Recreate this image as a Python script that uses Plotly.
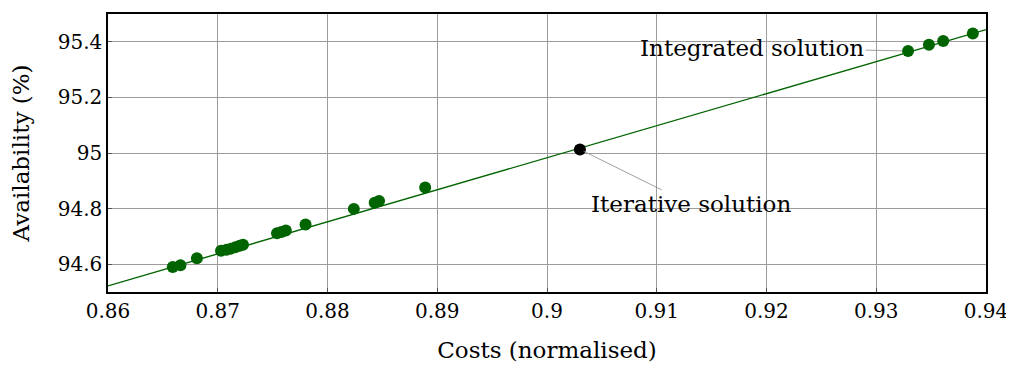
import plotly.graph_objects as go

# Pareto points (costs normalised, availability %)
costs = [0.8659, 0.8666, 0.8681, 0.8703, 0.8708, 0.8712, 0.8716, 0.8720, 0.8723,
         0.8754, 0.8758, 0.8762, 0.8780, 0.8824, 0.8843, 0.8847, 0.8889,
         0.9329, 0.9348, 0.9361, 0.9388]
availability = [94.590, 94.596, 94.621, 94.648, 94.652, 94.656, 94.661, 94.666, 94.670,
                94.711, 94.716, 94.721, 94.743, 94.799, 94.821, 94.827, 94.876,
                95.367, 95.389, 95.403, 95.430]

# Iterative solution
iter_cost = [0.9030]
iter_avail = [95.013]

# Fitted line end points
fit_x = [0.86, 0.94]
fit_y = [94.522, 95.444]

x_ticks = [0.86, 0.87, 0.88, 0.89, 0.9, 0.91, 0.92, 0.93, 0.94]
x_tick_labels = ["0.86", "0.87", "0.88", "0.89", "0.9", "0.91", "0.92", "0.93", "0.94"]
y_ticks = [94.6, 94.8, 95.0, 95.2, 95.4]
y_tick_labels = ["94.6", "94.8", "95", "95.2", "95.4"]

GREEN = "#006400"
FONT = "DejaVu Serif"
FS_TICK = 20
FS_TITLE = 23
FS_ANN = 23

fig = go.Figure()
fig.add_trace(go.Scatter(x=fit_x, y=fit_y, mode="lines",
                         line=dict(color=GREEN, width=1.4), showlegend=False,
                         hoverinfo="skip"))
fig.add_trace(go.Scatter(x=costs, y=availability, mode="markers",
                         marker=dict(color=GREEN, size=12), showlegend=False))
fig.add_trace(go.Scatter(x=iter_cost, y=iter_avail, mode="markers",
                         marker=dict(color="black", size=12), showlegend=False))

fig.add_annotation(x=costs[17], y=availability[17], text="Integrated solution",
                   showarrow=True, arrowhead=0, arrowwidth=0.8, arrowcolor="#888888",
                   ax=-156, ay=-3, standoff=6,
                   font=dict(family=FONT, size=FS_ANN, color="black"))
fig.add_annotation(x=iter_cost[0], y=iter_avail[0], text="Iterative solution",
                   showarrow=True, arrowhead=0, arrowwidth=0.8, arrowcolor="#888888",
                   ax=111, ay=55, standoff=4,
                   font=dict(family=FONT, size=FS_ANN, color="black"))

axis_common = dict(showgrid=True, gridcolor="#9c9c9c", gridwidth=1.3,
                   showline=True, linecolor="black", linewidth=1.5, mirror=True,
                   ticks="inside", ticklen=4, tickcolor="#555555",
                   zeroline=False,
                   tickfont=dict(family=FONT, size=FS_TICK, color="black"))

fig.update_xaxes(range=[0.86, 0.94], tickvals=x_ticks, ticktext=x_tick_labels,
                 title=dict(text="Costs (normalised)", font=dict(family=FONT, size=FS_TITLE, color="black"),
                            standoff=20),
                 **axis_common)
fig.update_yaxes(range=[94.5, 95.5], tickvals=y_ticks, ticktext=y_tick_labels,
                 title=dict(text="Availability (%)", font=dict(family=FONT, size=FS_TITLE, color="black"),
                            standoff=22),
                 **axis_common)

fig.update_layout(width=1014, height=370,
                  margin=dict(l=100, r=36, t=4, b=86),
                  plot_bgcolor="white", paper_bgcolor="white",
                  font=dict(family=FONT, size=FS_TICK, color="black"))

fig.write_html("out.html")
